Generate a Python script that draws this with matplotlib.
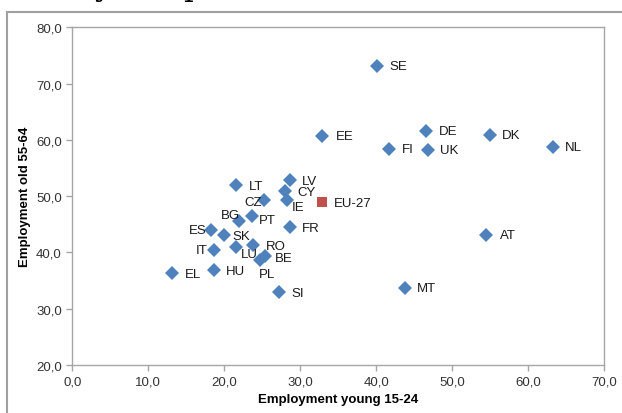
import matplotlib
matplotlib.use("Agg")
import matplotlib.pyplot as plt
from matplotlib.lines import Line2D
from matplotlib.ticker import FuncFormatter

plt.rcParams['font.family'] = ['Liberation Sans', 'DejaVu Sans']

# employment rates by country (young 15-24, old 55-64)
countries = ['SE', 'EE', 'DE', 'DK', 'FI', 'UK', 'NL', 'AT', 'MT', 'LV',
             'LT', 'CY', 'CZ', 'IE', 'BG', 'PT', 'FR', 'ES', 'SK', 'RO',
             'IT', 'LU', 'BE', 'PL', 'EL', 'HU', 'SI']
young = [40.1, 32.9, 46.5, 54.9, 41.7, 46.8, 63.2, 54.5, 43.8, 28.6,
         21.5, 28.0, 25.2, 28.2, 21.9, 23.6, 28.7, 18.2, 20.0, 23.8,
         18.6, 21.6, 25.3, 24.7, 13.1, 18.6, 27.2]
old = [73.1, 60.7, 61.6, 60.8, 58.3, 58.2, 58.7, 43.1, 33.6, 52.9,
       51.9, 50.9, 49.4, 49.3, 45.6, 46.5, 44.5, 44.0, 43.1, 41.4,
       40.5, 41.0, 39.4, 38.7, 36.3, 36.9, 32.9]

eu_young = 32.9
eu_old = 49.0

# label offsets in pixels (dx, dy up), hand placed like the original
offsets = {
    'SE': (21, 0), 'EE': (22, 0), 'DE': (22, 0), 'DK': (22, 0),
    'FI': (19, 0), 'UK': (21, 0), 'NL': (21, 0), 'AT': (21, 0),
    'MT': (21, 0), 'LV': (20, -1), 'LT': (20, -1), 'CY': (21, -1),
    'CZ': (-11, -2), 'IE': (11, -7), 'BG': (-8, 6), 'PT': (16, -4),
    'FR': (20, -1), 'ES': (-13, 0), 'SK': (17, -1), 'RO': (23, -1),
    'IT': (-12, 0), 'LU': (13, -7), 'BE': (19, -2), 'PL': (7, -14),
    'EL': (21, -1), 'HU': (22, -1), 'SI': (19, -1),
}

blue = '#4F81BD'
red = '#C0504D'
grey = '#A6A6A6'

fig = plt.figure(figsize=(6.22, 4.14), dpi=100)
ax = fig.add_axes([0.1162, 0.1159, 0.9715 - 0.1162, 0.9316 - 0.1159])

ax.plot(young, old, linestyle='none', marker='D', markersize=7.5,
        color=blue, markeredgewidth=0)
ax.plot([eu_young], [eu_old], linestyle='none', marker='s', markersize=7.5,
        color=red, markeredgewidth=0)

for name, xv, yv in zip(countries, young, old):
    dx, dy = offsets[name]
    ax.annotate(name, (xv, yv), xytext=(dx, dy), textcoords='offset pixels',
                ha='center', va='center', fontsize=9.5, color='#1a1a1a')
ax.annotate('EU-27', (eu_young, eu_old), xytext=(30, -1),
            textcoords='offset pixels', ha='center', va='center',
            fontsize=9.5, color='#1a1a1a')

ax.set_xlim(0, 70)
ax.set_ylim(20, 80)
ax.set_xticks(range(0, 71, 10))
ax.set_yticks(range(20, 81, 10))
fmt = FuncFormatter(lambda v, p: f'{v:.1f}'.replace('.', ','))
ax.xaxis.set_major_formatter(fmt)
ax.yaxis.set_major_formatter(fmt)
ax.tick_params(direction='out', length=4, color=grey, labelsize=9.5,
               labelcolor='#333333', width=1)
for s in ax.spines.values():
    s.set_color(grey)
    s.set_linewidth(1)

ax.set_xlabel('Employment young 15-24', fontsize=9.5, fontweight='bold',
              labelpad=4)
ax.set_ylabel('Employment old 55-64', fontsize=9.5, fontweight='bold',
              labelpad=4)

# outer chart frame (runs off the right and bottom of the crop)
x0 = 7 / 622
y0 = 1 - 13 / 414
fig.add_artist(Line2D([x0, 1.01], [y0, y0], transform=fig.transFigure,
                      color='#A0A0A0', lw=1.5))
fig.add_artist(Line2D([x0, x0], [y0, -0.01], transform=fig.transFigure,
                      color='#A0A0A0', lw=1.5))

# descenders of the page text cut off above the chart
fig.text(103 / 622, 1.0 + 5 / 414, 'y', family='DejaVu Serif', fontsize=22,
         ha='center', va='baseline')
fig.text(193 / 622, 1.0 + 5 / 414, 'p', family='DejaVu Serif', fontsize=22,
         ha='center', va='baseline')

fig.savefig('out.png', dpi=100)
